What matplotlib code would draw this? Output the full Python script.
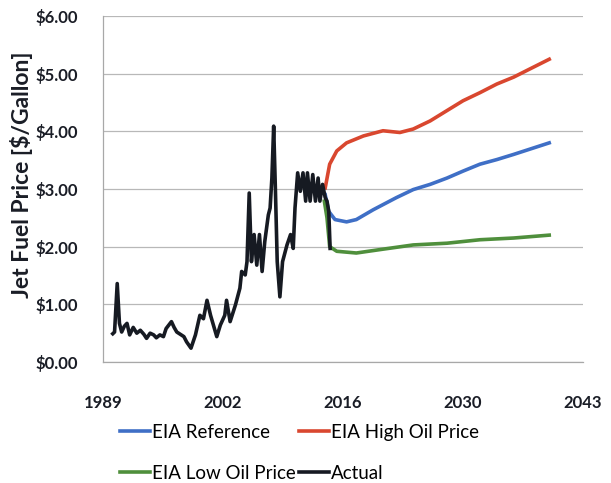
import numpy as np
import matplotlib
matplotlib.use('Agg')
import matplotlib.pyplot as plt

plt.rcParams['font.family'] = ['Lato', 'DejaVu Sans']

# Historical jet fuel price ($/gallon)
actual_year = [
    1990.1, 1990.3, 1990.6, 1990.85, 1991.1, 1991.4, 1991.7, 1992.0, 1992.4,
    1992.8, 1993.2, 1993.6, 1993.9, 1994.3, 1994.7, 1995.0, 1995.4, 1995.8,
    1996.1, 1996.7, 1997.0, 1997.3, 1997.8, 1998.1,
    1998.4, 1998.9, 1999.4, 1999.9, 2000.3, 2000.7, 2001.1, 2001.8,
    2002.2, 2002.7, 2002.9, 2003.3, 2003.9, 2004.4, 2004.6, 2005.0,
    2005.2, 2005.45, 2005.7, 2006.0, 2006.3, 2006.6, 2006.9, 2007.2,
    2007.6, 2007.8, 2008.0, 2008.2, 2008.4, 2008.6, 2008.9, 2009.2,
    2009.7, 2010.1, 2010.4, 2010.6, 2010.9, 2011.2, 2011.5, 2011.8,
    2012.0, 2012.3, 2012.6, 2012.9, 2013.2, 2013.4, 2013.7, 2014.0,
    2014.2, 2014.4, 2014.55,
]
actual_price = [
    0.49, 0.52, 1.36, 0.67, 0.52, 0.62, 0.67, 0.47, 0.60,
    0.50, 0.55, 0.48, 0.41, 0.50, 0.47, 0.42, 0.47, 0.44,
    0.58, 0.70, 0.60, 0.52, 0.47, 0.44,
    0.35, 0.24, 0.47, 0.81, 0.75, 1.07, 0.81, 0.44,
    0.64, 0.81, 1.07, 0.70, 0.99, 1.28, 1.57, 1.51,
    1.74, 2.93, 1.74, 2.21, 1.68, 2.21, 1.57, 2.09,
    2.55, 2.67, 3.19, 4.09, 2.96, 1.74, 1.13, 1.74,
    2.03, 2.21, 1.97, 2.67, 3.28, 2.96, 3.28, 2.79,
    3.28, 2.79, 3.25, 2.79, 3.19, 2.79, 3.08, 2.85,
    2.79, 2.61, 1.97,
]

# EIA projections
ref_year = [2014.0, 2014.4, 2015.1, 2016.4, 2017.5, 2019.4, 2022.0, 2023.9,
            2025.8, 2027.7, 2029.5, 2031.4, 2033.3, 2035.2, 2037.0, 2039.2]
ref_price = [2.90, 2.61, 2.47, 2.43, 2.47, 2.64, 2.85, 2.99,
             3.08, 3.19, 3.31, 3.43, 3.51, 3.60, 3.69, 3.80]

high_year = [2014.0, 2014.5, 2015.3, 2016.4, 2018.3, 2020.5, 2022.4, 2023.9,
             2025.8, 2027.7, 2029.5, 2031.4, 2033.3, 2035.2, 2037.0, 2039.2]
high_price = [3.02, 3.43, 3.66, 3.80, 3.92, 4.01, 3.98, 4.04,
              4.18, 4.36, 4.53, 4.67, 4.82, 4.94, 5.08, 5.25]

low_year = [2013.9, 2014.2, 2014.5, 2015.3, 2017.5, 2020.2, 2023.9, 2027.7,
            2031.4, 2035.2, 2039.2]
low_price = [2.79, 2.50, 2.00, 1.92, 1.89, 1.95, 2.03, 2.06,
             2.12, 2.15, 2.20]

x_ticks = [1989, 2002.5, 2016, 2029.5, 2043]
x_labels = ['1989', '2002', '2016', '2030', '2043']
y_ticks = [0, 1, 2, 3, 4, 5, 6]

fig = plt.figure(figsize=(6.11, 4.83), dpi=100)
ax = fig.add_axes([103 / 611, 1 - 362 / 483, 480 / 611, 346 / 483])

ax.plot(ref_year, ref_price, color='#3f6fc6', lw=2.6, label='EIA Reference')
ax.plot(low_year, low_price, color='#4f8f3c', lw=2.6, label='EIA Low Oil Price')
ax.plot(high_year, high_price, color='#d9472f', lw=2.6, label='EIA High Oil Price')
ax.plot(actual_year, actual_price, color='#161a22', lw=2.6, label='Actual')

ax.set_xlim(1989, 2043)
ax.set_ylim(0, 6)
ax.set_xticks(x_ticks)
ax.set_xticklabels(x_labels)
ax.set_yticks(y_ticks)
ax.set_yticklabels(['$%.2f' % v for v in y_ticks])
ax.tick_params(length=0, labelsize=12)
ax.tick_params(axis='x', pad=24)
ax.tick_params(axis='y', pad=18)
for lab in ax.get_xticklabels() + ax.get_yticklabels():
    lab.set_fontweight('bold')
    lab.set_color('#1a1d26')

ax.grid(axis='y', color='#b8b8b8', lw=0.9)
ax.set_axisbelow(True)
for s in ['top', 'right']:
    ax.spines[s].set_visible(False)
for s in ['left', 'bottom']:
    ax.spines[s].set_color('#a8a8a8')
    ax.spines[s].set_linewidth(0.9)

fig.text(22 / 611, 1 - 175 / 483, 'Jet Fuel Price [$/Gallon]', rotation=90,
         ha='center', va='center', fontsize=16.5, fontweight='bold',
         color='#1a1d26')

fig.legend(loc='upper left', bbox_to_anchor=(120 / 611, 1 - 424 / 483),
           ncol=2, frameon=False, fontsize=13.5, handlelength=1.6,
           handletextpad=0.1, columnspacing=0.2, labelspacing=1.27,
           borderpad=0, borderaxespad=0)

fig.savefig('out.png', dpi=100)
